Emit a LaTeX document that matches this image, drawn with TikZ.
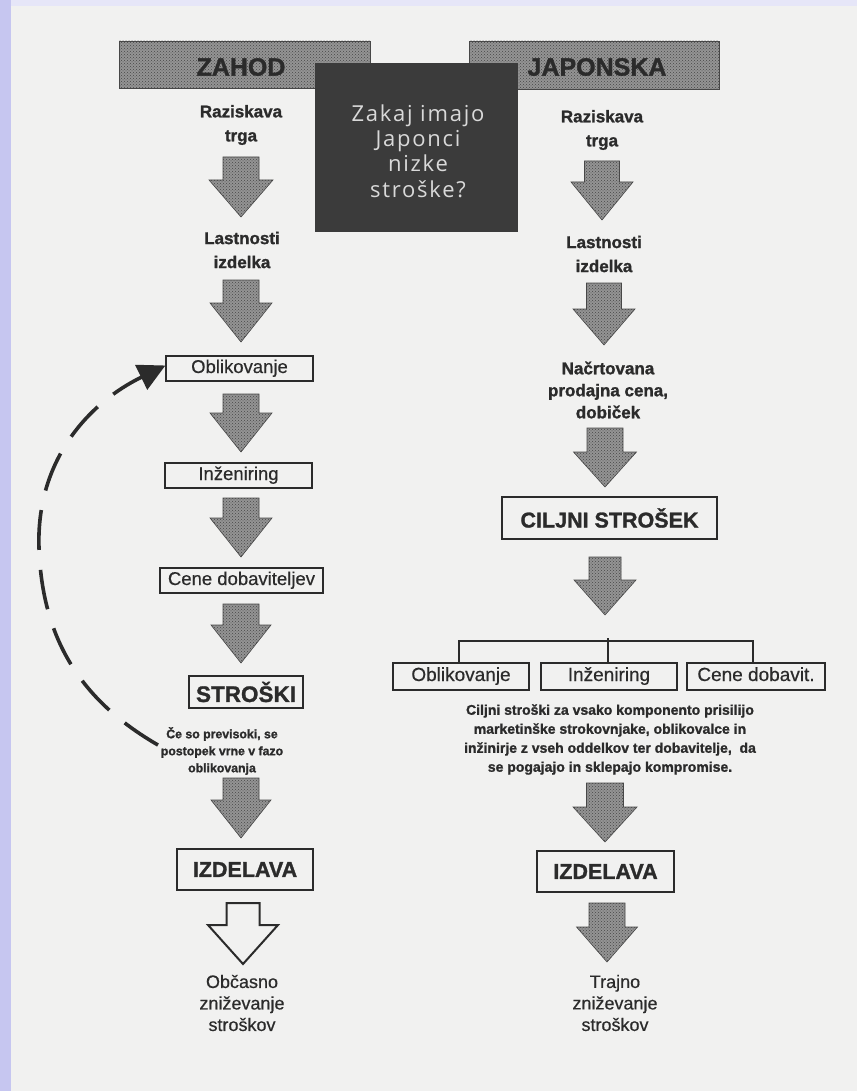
\documentclass[tikz,border=0pt]{standalone}
\usepackage{fontspec}
\setmainfont{Liberation Sans}[BoldFeatures={FakeBold=1.3}, UprightFeatures={FakeBold=0.5}]
\newfontfamily\qfont{Open Sans}[LetterSpace=8]
\usetikzlibrary{patterns,arrows.meta}
\definecolor{bgpage}{HTML}{F1F1F0}
\definecolor{lav}{HTML}{C6C6F0}
\definecolor{lavlight}{HTML}{E6E6F8}
\definecolor{ink}{HTML}{2B2B2B}
\definecolor{darkbox}{HTML}{3B3B3B}
\definecolor{qtext}{HTML}{D9D9D9}
\newcommand\blockarr[7][barrow]{%
  \draw[#1] ({#2-#6},#3) -- ({#2+#6},#3) -- ({#2+#6},#4) -- ({#2+#7},#4) -- (#2,#5)
    -- ({#2-#7},#4) -- ({#2-#6},#4) -- cycle;}
\begin{document}
\begin{tikzpicture}[x=1pt,y=-1pt,
  hatched/.style={fill=black!42, postaction={pattern=crosshatch dots, pattern color=black!72}, draw=black!72, line width=0.6pt},
  barrow/.style={hatched, line join=miter},
  obarrow/.style={draw=ink, line width=2pt, fill=bgpage, line join=miter},
  box/.style={draw=ink, line width=1.2pt, fill=bgpage, inner sep=0pt, text=ink},
  lbl/.style={align=center, inner sep=0pt, text=ink},
  head/.style={hatched, inner sep=0pt},
  headtxt/.style={text=ink, inner sep=0pt, font=\fontsize{25pt}{28pt}\selectfont\bfseries},
  midtxt/.style={lbl, font=\fontsize{17pt}{24pt}\selectfont\bfseries},
  boxtxt/.style={font=\fontsize{18.5pt}{22pt}\selectfont, text height=13pt, text depth=4pt},
  bigtxt/.style={font=\fontsize{21.5pt}{24pt}\selectfont\bfseries},
  endtxt/.style={lbl, font=\fontsize{18pt}{21.5pt}\selectfont},
  loop/.style={draw=ink, line width=3.6pt, dash pattern=on 40pt off 20pt, -{Triangle[length=27pt,width=27pt]}},
  tree/.style={draw=ink, line width=1.2pt}
]
% background
\useasboundingbox (0,0) rectangle (857,1091);
\fill[lavlight] (0,0) rectangle (857,1091);
\fill[lav] (0,0) rectangle (11,1091);
\fill[bgpage] (11,6) rectangle (857,1091);

% headers
\node[head, minimum width=251pt, minimum height=47pt] (zahod) at (244.5,64.5) {};
\node[headtxt] (zahodt) at (241,67) {ZAHOD};
\node[head, minimum width=250pt, minimum height=48pt] (japon) at (594,65) {};
\node[headtxt] (japont) at (597,67) {JAPONSKA};
\node[fill=darkbox, minimum width=203pt, minimum height=169pt, inner sep=0pt] (q) at (416.5,147.5) {};
\node[align=center, text=qtext, inner sep=0pt, font=\qfont\fontsize{22pt}{25.3pt}\selectfont] (qt) at (418,151) {Zakaj imajo\\Japonci\\nizke\\stroške?};

% ---- left column (ZAHOD)
\node[midtxt] (lr) at (241,125) {Raziskava\\trga};
\blockarr{241}{157}{180}{217}{18}{32}
\node[midtxt] (ll) at (242,250) {Lastnosti\\izdelka};
\blockarr{241}{280}{303}{342}{18}{31}
\node[box, boxtxt, minimum width=147pt, minimum height=25pt] (obl) at (239.5,368.5) {Oblikovanje};
\blockarr{241}{394}{413}{452}{18}{31}
\node[box, boxtxt, minimum width=147pt, minimum height=25pt] (inz) at (238.5,475.5) {Inženiring};
\blockarr{241}{498}{518}{557}{18}{31}
\node[box, boxtxt, minimum width=163pt, minimum height=25pt] (cene) at (241.5,580.5) {Cene dobaviteljev};
\blockarr{241}{604}{625}{663}{18}{30}
\node[box, font=\fontsize{22.5pt}{26pt}\selectfont\bfseries, minimum width=114pt, minimum height=32pt] (str) at (246,692) {STROŠKI};
\node[lbl, font=\fontsize{12.3pt}{17pt}\selectfont\bfseries] (cmt) at (222,751) {Če so previsoki, se\\postopek vrne v fazo\\oblikovanja};
\blockarr{241}{778}{800}{838}{18}{30}
\node[box, bigtxt, minimum width=136pt, minimum height=41pt] (izl) at (245,869.5) {IZDELAVA};
\blockarr[obarrow]{243}{903}{925}{964}{16.5}{35}
\node[endtxt] (endl) at (242,1003) {Občasno\\zniževanje\\stroškov};

% feedback loop
\coordinate (fb) at (158,745);
\draw[loop] (fb) to[out=150,in=-88] (39,548) to[out=92,in=206] ([yshift=3pt]obl.west);

% ---- right column (JAPONSKA)
\node[midtxt] (rr) at (602,130) {Raziskava\\trga};
\blockarr{602}{161}{182}{220}{17.5}{31}
\node[midtxt] (rl) at (604,254) {Lastnosti\\izdelka};
\blockarr{604}{283}{309}{345}{17.5}{31}
\node[lbl, font=\fontsize{17pt}{22pt}\selectfont\bfseries] (rn) at (608,390) {Načrtovana\\prodajna cena,\\dobiček};
\blockarr{605}{428}{452}{487}{18}{31.5}
\node[box, bigtxt, minimum width=215pt, minimum height=42pt] (cilj) at (609.5,518) {CILJNI STROŠEK};
\blockarr{605}{557}{580}{615}{16}{31}
\coordinate (tp) at (608,641);
\node[box, boxtxt, font=\fontsize{19pt}{22pt}\selectfont, minimum width=136pt, minimum height=27pt] (rob) at (461,676.5) {Oblikovanje};
\node[box, boxtxt, font=\fontsize{19pt}{22pt}\selectfont, minimum width=136pt, minimum height=27pt] (rinz) at (609,676.5) {Inženiring};
\node[box, boxtxt, font=\fontsize{19pt}{22pt}\selectfont, minimum width=138pt, minimum height=27pt] (rce) at (756,676.5) {Cene dobavit.};
\draw[tree] ([xshift=-2pt]rob.north) -- ([xshift=-2pt]rob.north |- tp) -- ([xshift=-3pt]rce.north |- tp) -- ([xshift=-3pt]rce.north);
\draw[tree] ([yshift=3pt]tp) -- ([xshift=-1pt]rinz.north);
\node[lbl, font=\fontsize{14pt}{19pt}\selectfont\bfseries] (rcmt) at (610,739.5) {Ciljni stroški za vsako komponento prisilijo\\marketinške strokovnjake, oblikovalce in\\inžinirje z vseh oddelkov ter dobavitelje,\ \ da\\se pogajajo in sklepajo kompromise.};
\blockarr{605}{783}{807}{842}{18.5}{32}
\node[box, bigtxt, minimum width=137pt, minimum height=41pt] (izr) at (605.5,871.5) {IZDELAVA};
\blockarr{607}{903}{927}{962}{18}{30.5}
\node[endtxt] (endr) at (615,1003) {Trajno\\zniževanje\\stroškov};
\end{tikzpicture}
\end{document}
